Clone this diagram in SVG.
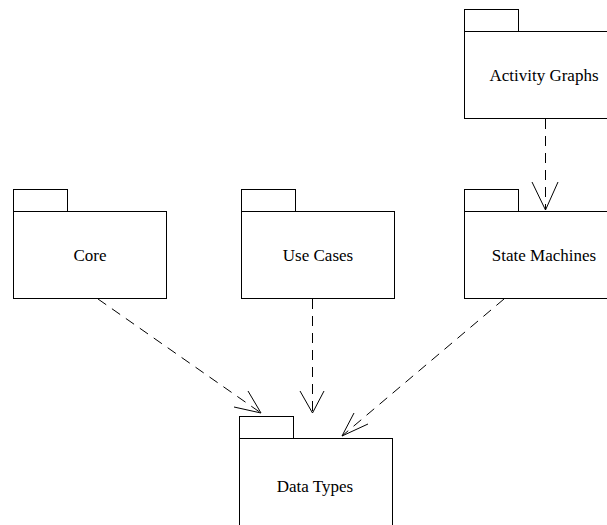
<svg xmlns="http://www.w3.org/2000/svg" width="607" height="525" viewBox="0 0 607 525">
<style>
.pk{fill:#fff;stroke:#000;stroke-width:1}
.lb{font-family:"Liberation Serif","Times New Roman",serif;font-size:17px;fill:#000;text-anchor:middle}
.dep{fill:none;stroke:#000;stroke-width:1;stroke-dasharray:10,7}
.ah{fill:none;stroke:#000;stroke-width:1}
</style>
<rect width="607" height="525" fill="#fff"/>
<g id="activity-graphs">
<rect class="pk" x="464.5" y="9.5" width="54" height="22"/>
<rect class="pk" x="464.5" y="31.5" width="150" height="87"/>
<text class="lb" x="544" y="81">Activity Graphs</text>
</g>
<g id="core">
<rect class="pk" x="13.5" y="189.5" width="54" height="22"/>
<rect class="pk" x="13.5" y="211.5" width="153" height="87"/>
<text class="lb" x="90" y="261">Core</text>
</g>
<g id="use-cases">
<rect class="pk" x="241.5" y="189.5" width="54" height="22"/>
<rect class="pk" x="241.5" y="211.5" width="153" height="87"/>
<text class="lb" x="318" y="261">Use Cases</text>
</g>
<g id="state-machines">
<rect class="pk" x="464.5" y="189.5" width="54" height="22"/>
<rect class="pk" x="464.5" y="211.5" width="150" height="87"/>
<text class="lb" x="544" y="261">State Machines</text>
</g>
<g id="data-types">
<rect class="pk" x="239.5" y="416.5" width="54" height="22"/>
<rect class="pk" x="239.5" y="438.5" width="153" height="100"/>
<text class="lb" x="315" y="492">Data Types</text>
</g>
<g id="connectors">
<line class="dep" x1="545.5" y1="119" x2="545.5" y2="210"/>
<polyline class="ah" points="532,182 545.5,210 558,182"/>
<line class="dep" x1="98" y1="299" x2="261" y2="413"/>
<polyline class="ah" points="248,391 261,413 234,407"/>
<line class="dep" x1="312.5" y1="299" x2="312.5" y2="413"/>
<polyline class="ah" points="300,391 312.5,413 324,391"/>
<line class="dep" x1="504" y1="299" x2="342" y2="436"/>
<polyline class="ah" points="354,413 342,436 368,424"/>
</g>
</svg>
